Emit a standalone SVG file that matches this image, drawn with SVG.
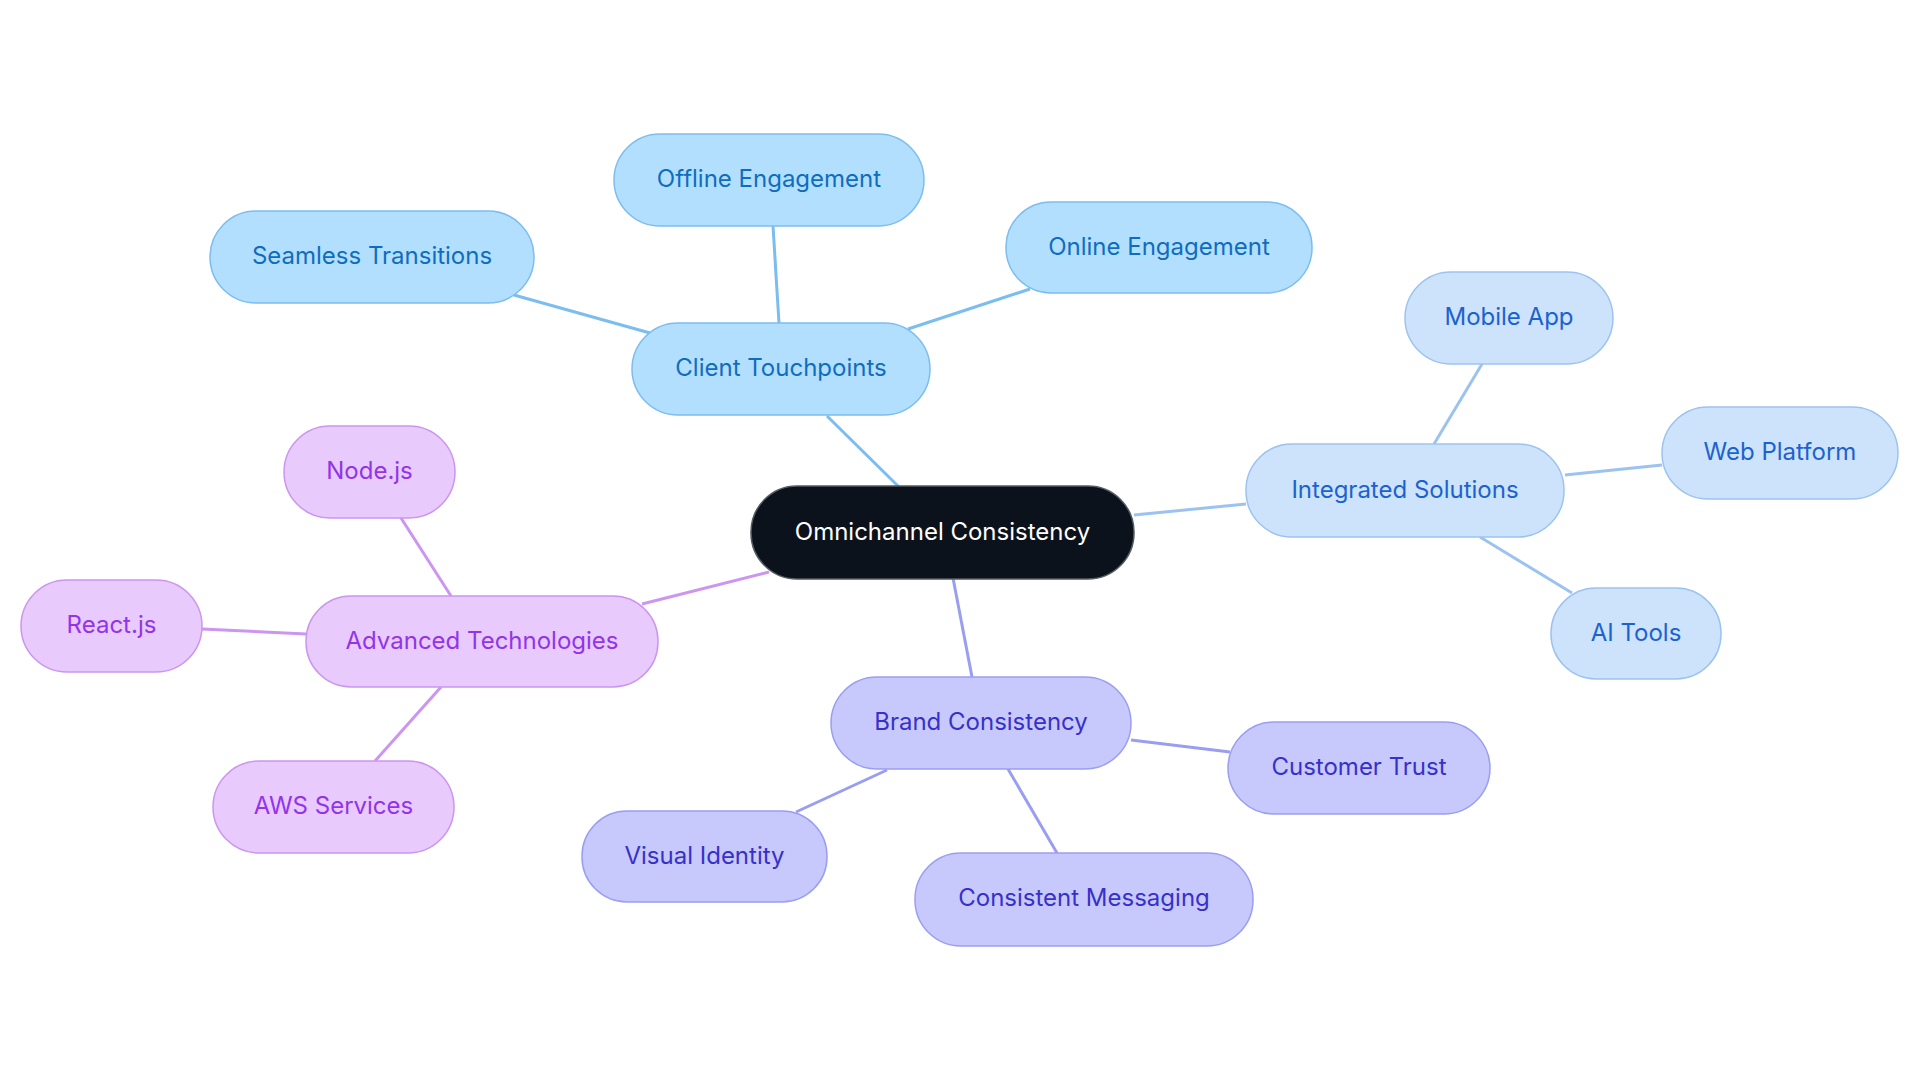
<svg xmlns="http://www.w3.org/2000/svg" width="1920" height="1083" viewBox="0 0 1920 1083">
<style>
text{font-family:Inter,"Noto Sans",sans-serif;font-size:24px;text-anchor:middle}
.c1 rect{fill:#b3dffe;stroke:#7cbdf0;stroke-width:1.5}
.c1 text{fill:#0f6dbf}
.c2 rect{fill:#cde3fb;stroke:#9cc3f0;stroke-width:1.5}
.c2 text{fill:#1b62d0}
.c3 rect{fill:#e8cafd;stroke:#cc95f0;stroke-width:1.5}
.c3 text{fill:#9333ea}
.c4 rect{fill:#c7c9fd;stroke:#9a9ef0;stroke-width:1.5}
.c4 text{fill:#3730c9}
.root rect{fill:#0c121b;stroke:#555b63;stroke-width:1.5}
.root text{fill:#ffffff}
.l1{stroke:#7cbdf0;stroke-width:3;fill:none}
.l2{stroke:#9cc3f0;stroke-width:3;fill:none}
.l3{stroke:#cc95f0;stroke-width:3;fill:none}
.l4{stroke:#9a9ef0;stroke-width:3;fill:none}
</style>
<rect width="1920" height="1083" fill="#ffffff"/>
<g id="connectors">
<line class="l1" x1="899" y1="487" x2="827" y2="416"/>
<line class="l1" x1="779" y1="323" x2="773" y2="226"/>
<line class="l1" x1="908" y1="329" x2="1030" y2="289"/>
<line class="l1" x1="650" y1="333" x2="514" y2="295"/>
<line class="l2" x1="1134" y1="515" x2="1246" y2="504"/>
<line class="l2" x1="1434" y1="444" x2="1482" y2="364"/>
<line class="l2" x1="1565" y1="475" x2="1662" y2="465"/>
<line class="l2" x1="1480" y1="537" x2="1572" y2="593"/>
<line class="l3" x1="769" y1="572" x2="642" y2="604"/>
<line class="l3" x1="451" y1="596" x2="401" y2="518"/>
<line class="l3" x1="306" y1="634" x2="202" y2="629"/>
<line class="l3" x1="441" y1="687" x2="375" y2="761"/>
<line class="l4" x1="953" y1="578" x2="972" y2="677"/>
<line class="l4" x1="1131" y1="740" x2="1230" y2="752"/>
<line class="l4" x1="887" y1="770" x2="796" y2="812"/>
<line class="l4" x1="1008" y1="769" x2="1057" y2="853"/>
</g>
<g id="root" class="root"><rect x="751" y="486" width="383" height="93" rx="46"/><text x="942.5" y="540">Omnichannel Consistency</text></g>
<g id="client-touchpoints" class="c1"><rect x="632" y="323" width="298" height="92" rx="46"/><text x="781" y="376">Client Touchpoints</text></g>
<g id="offline-engagement" class="c1"><rect x="614" y="134" width="310" height="92" rx="46"/><text x="769" y="187">Offline Engagement</text></g>
<g id="online-engagement" class="c1"><rect x="1006" y="202" width="306" height="91" rx="45"/><text x="1159" y="255">Online Engagement</text></g>
<g id="seamless-transitions" class="c1"><rect x="210" y="211" width="324" height="92" rx="46"/><text x="372" y="264">Seamless Transitions</text></g>
<g id="integrated-solutions" class="c2"><rect x="1246" y="444" width="318" height="93" rx="46"/><text x="1405" y="498">Integrated Solutions</text></g>
<g id="mobile-app" class="c2"><rect x="1405" y="272" width="208" height="92" rx="46"/><text x="1509" y="325">Mobile App</text></g>
<g id="web-platform" class="c2"><rect x="1662" y="407" width="236" height="92" rx="46"/><text x="1780" y="460">Web Platform</text></g>
<g id="ai-tools" class="c2"><rect x="1551" y="588" width="170" height="91" rx="45"/><text x="1636" y="641">AI Tools</text></g>
<g id="advanced-technologies" class="c3"><rect x="306" y="596" width="352" height="91" rx="45"/><text x="482" y="649">Advanced Technologies</text></g>
<g id="nodejs" class="c3"><rect x="284" y="426" width="171" height="92" rx="46"/><text x="369.5" y="479">Node.js</text></g>
<g id="reactjs" class="c3"><rect x="21" y="580" width="181" height="92" rx="46"/><text x="111.5" y="633">React.js</text></g>
<g id="aws-services" class="c3"><rect x="213" y="761" width="241" height="92" rx="46"/><text x="333.5" y="814">AWS Services</text></g>
<g id="brand-consistency" class="c4"><rect x="831" y="677" width="300" height="92" rx="46"/><text x="981" y="730">Brand Consistency</text></g>
<g id="customer-trust" class="c4"><rect x="1228" y="722" width="262" height="92" rx="46"/><text x="1359" y="775">Customer Trust</text></g>
<g id="visual-identity" class="c4"><rect x="582" y="811" width="245" height="91" rx="45"/><text x="704.5" y="864">Visual Identity</text></g>
<g id="consistent-messaging" class="c4"><rect x="915" y="853" width="338" height="93" rx="46"/><text x="1084" y="906">Consistent Messaging</text></g>
</svg>
